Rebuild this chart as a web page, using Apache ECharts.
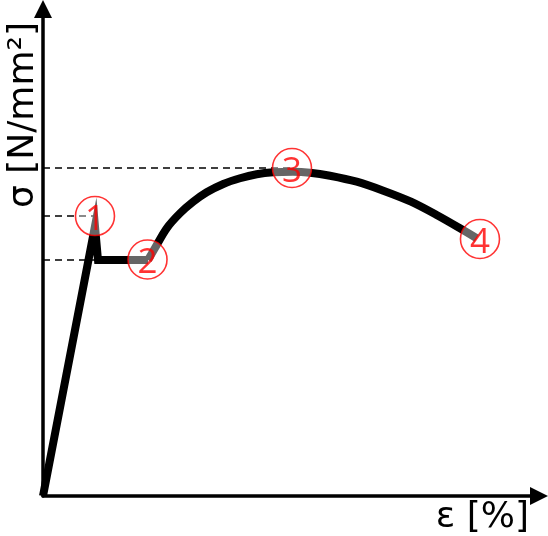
<!DOCTYPE html>
<html>
<head>
<meta charset="utf-8">
<script src="https://cdn.jsdelivr.net/npm/echarts@6/dist/echarts.min.js"></script>
<style>
html,body{margin:0;padding:0;background:#fff;}
#chart{width:548px;height:536px;}
</style>
</head>
<body>
<div id="chart"></div>
<script>
// Elastic rise, upper yield point, lower yield plateau
const riseStrain = [0, 10.48, 11.09, 21.17];
const riseStress = [0, 55.4, 48.46, 48.46];
// Strain hardening curve to ultimate strength and necking to fracture
const curveStrain = [21.17, 22.58, 24.94, 27.62, 30.30, 33.00, 36.35, 39.72, 43.08, 46.43, 50.40, 53.83, 57.86, 63.25, 68.61, 74.19, 79.37, 84.07, 87.44];
const curveStress = [48.46, 50.92, 54.97, 58.05, 60.43, 62.36, 64.07, 65.24, 66.06, 66.47, 66.59, 66.39, 65.77, 64.54, 62.69, 60.43, 57.70, 54.97, 52.92];
// Marked points
const markerLabels = ['1', '2', '3', '4'];
const markerStrain = [10.48, 21.07, 50.20, 88.10];
const markerStress = [57.49, 48.56, 67.35, 52.77];
// Reference levels (dashed)
const levelStress = [57.49, 48.46, 67.45];
const levelStrainEnd = [10.28, 10.48, 50.20];

const xTitle = 'ε [%]';
const yTitle = 'σ [N/mm²]';

const chart = echarts.init(document.getElementById('chart'));
const lineStyle = {color: '#000', width: 8, cap: 'butt', join: 'miter', miterLimit: 20};
const axisCommon = {
  type: 'value', min: 0, max: 100,
  axisLine: {show: true, onZero: false, symbol: ['none', 'triangle'], symbolSize: [18, 18],
    lineStyle: {color: '#000', width: 3.5}},
  axisTick: {show: false}, axisLabel: {show: false}, splitLine: {show: false}
};
chart.setOption({
  animation: false,
  backgroundColor: '#fff',
  grid: {left: 43, right: 9, top: 9, bottom: 40},
  xAxis: axisCommon,
  yAxis: axisCommon,
  graphic: [
    {type: 'text', x: 24, y: 115, rotation: Math.PI / 2,
      style: {text: yTitle, font: '36px "DejaVu Sans"', fill: '#000', textAlign: 'center', textVerticalAlign: 'middle'}},
    {type: 'text', x: 529, y: 518,
      style: {text: xTitle, font: '36px "DejaVu Sans"', fill: '#000', textAlign: 'right', textVerticalAlign: 'middle'}}
  ],
  series: [
    {
      type: 'line', z: 1, silent: true, showSymbol: false,
      data: [],
      markLine: {
        silent: true, symbol: 'none', label: {show: false},
        lineStyle: {color: '#000', width: 1.5, type: [7, 5]},
        data: levelStress.map((s, i) => [{coord: [0, s]}, {coord: [levelStrainEnd[i], s]}])
      }
    },
    {
      type: 'line', z: 2, showSymbol: false, silent: true,
      data: riseStrain.map((x, i) => [x, riseStress[i]]),
      lineStyle: lineStyle
    },
    {
      type: 'line', z: 2, showSymbol: false, silent: true, smooth: 0.3,
      data: curveStrain.map((x, i) => [x, curveStress[i]]),
      lineStyle: lineStyle
    },
    {
      type: 'scatter', z: 5, silent: true,
      symbol: 'circle', symbolSize: 39,
      itemStyle: {color: 'rgba(255,255,255,0.5)', borderColor: '#ff0000', borderWidth: 1.6},
      label: {show: true, position: 'inside', formatter: p => markerLabels[p.dataIndex],
        color: '#ff0000', fontSize: 35, fontFamily: 'Open Sans', fontWeight: 'normal', offset: [0, 4]},
      data: markerStrain.map((x, i) => [x, markerStress[i]])
    }
  ]
});
</script>
</body>
</html>
